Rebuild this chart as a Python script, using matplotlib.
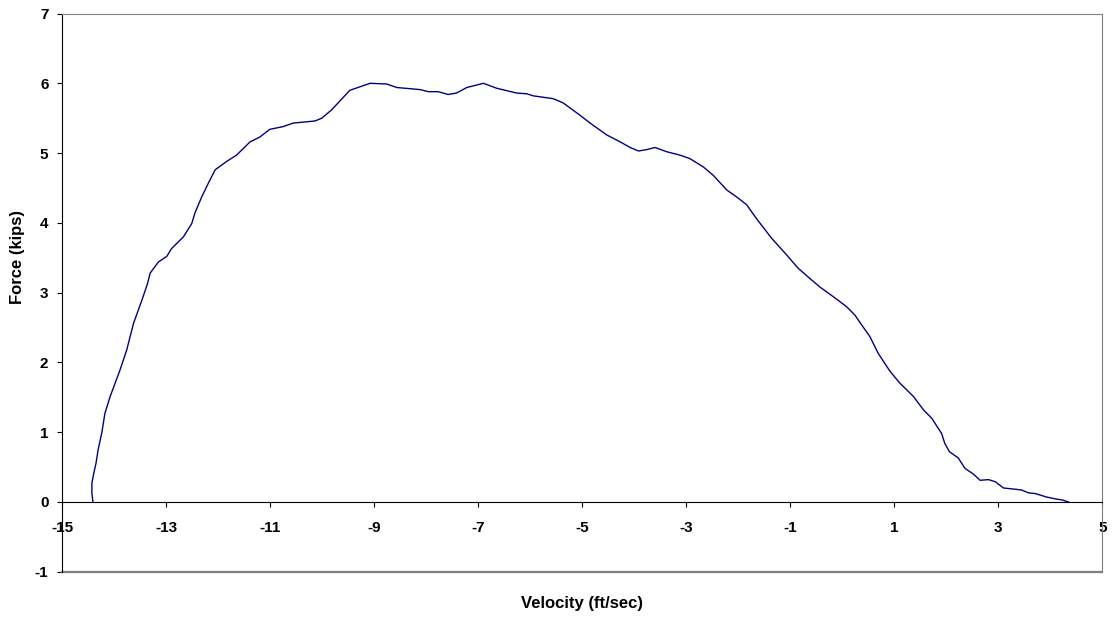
import matplotlib.pyplot as plt

plt.rcParams['font.family'] = ['Liberation Sans', 'DejaVu Sans']
plt.rcParams['font.weight'] = 'bold'
plt.rcParams['axes.unicode_minus'] = False

# force-velocity curve
velocity = [-14.41, -14.43, -14.43, -14.40, -14.35, -14.31, -14.24, -14.18, -14.08,
            -13.89, -13.76, -13.63, -13.47, -13.36, -13.31, -13.15, -12.99, -12.90,
            -12.67, -12.51, -12.45, -12.32, -12.19, -12.06, -11.84, -11.65, -11.39,
            -11.20, -11.01, -10.75, -10.56, -10.14, -10.01, -9.82, -9.47, -9.08,
            -8.76, -8.57, -8.12, -7.96, -7.77, -7.58, -7.42, -7.22, -6.90, -6.65,
            -6.26, -6.07, -5.94, -5.56, -5.37, -5.04, -4.85, -4.53, -4.27, -4.08,
            -3.92, -3.76, -3.60, -3.38, -3.12, -2.93, -2.67, -2.48, -2.22, -2.03,
            -1.84, -1.65, -1.36, -1.07, -0.85, -0.62, -0.43, -0.17, 0.08, 0.24,
            0.37, 0.53, 0.69, 0.92, 1.11, 1.37, 1.56, 1.72, 1.91, 1.97, 2.06,
            2.23, 2.36, 2.52, 2.65, 2.81, 2.94, 3.10, 3.35, 3.45, 3.58, 3.71,
            3.93, 4.12, 4.22, 4.35]
force = [0.00, 0.12, 0.27, 0.39, 0.56, 0.75, 0.99, 1.27, 1.51,
         1.89, 2.18, 2.56, 2.89, 3.13, 3.28, 3.44, 3.52, 3.63,
         3.80, 3.99, 4.14, 4.37, 4.57, 4.76, 4.88, 4.97, 5.16,
         5.23, 5.34, 5.38, 5.43, 5.46, 5.50, 5.62, 5.90, 6.00,
         5.99, 5.94, 5.91, 5.88, 5.88, 5.84, 5.86, 5.94, 6.00, 5.93,
         5.86, 5.85, 5.82, 5.78, 5.72, 5.54, 5.43, 5.26, 5.16, 5.08,
         5.03, 5.05, 5.08, 5.02, 4.97, 4.92, 4.80, 4.68, 4.47, 4.37,
         4.26, 4.06, 3.78, 3.54, 3.35, 3.20, 3.08, 2.94, 2.80, 2.68,
         2.54, 2.37, 2.13, 1.87, 1.70, 1.51, 1.32, 1.20, 0.98, 0.84, 0.72,
         0.63, 0.48, 0.40, 0.31, 0.32, 0.29, 0.20, 0.18, 0.17, 0.13, 0.12,
         0.07, 0.04, 0.03, 0.00]

x_ticks = [-15, -13, -11, -9, -7, -5, -3, -1, 1, 3, 5]
y_ticks = [-1, 0, 1, 2, 3, 4, 5, 6, 7]

fig = plt.figure(figsize=(11.12, 6.18), dpi=100)
ax = fig.add_axes([0.056, 0.0749, 0.9353, 0.9032])

ax.plot(velocity, force, color='#000080', lw=1.0, solid_joinstyle='round')

ax.set_xlim(-15, 5)
ax.set_ylim(-1, 7)
ax.set_xticks(x_ticks)
ax.set_yticks(y_ticks)

# x axis crosses at zero, frame drawn in grey
ax.spines['bottom'].set_position(('data', 0))
ax.spines['bottom'].set_color('black')
ax.spines['left'].set_color('black')
ax.spines['top'].set_color('#808080')
ax.spines['right'].set_color('#808080')
ax.axhline(-1, color='#808080', lw=1.6, clip_on=False)

ax.tick_params(axis='x', direction='out', length=3.5, width=0.8, pad=10.5, labelsize=11)
ax.tick_params(axis='y', direction='out', length=3.5, width=0.8, pad=6.5, labelsize=11)

ax.set_xlabel('Velocity (ft/sec)', fontsize=12, fontweight='bold')
ax.xaxis.set_label_coords(0.5, -0.0435)
ax.set_ylabel('Force (kips)', fontsize=12, fontweight='bold')
ax.yaxis.set_label_coords(-0.036, 0.564)

fig.savefig('out.png', dpi=100)
